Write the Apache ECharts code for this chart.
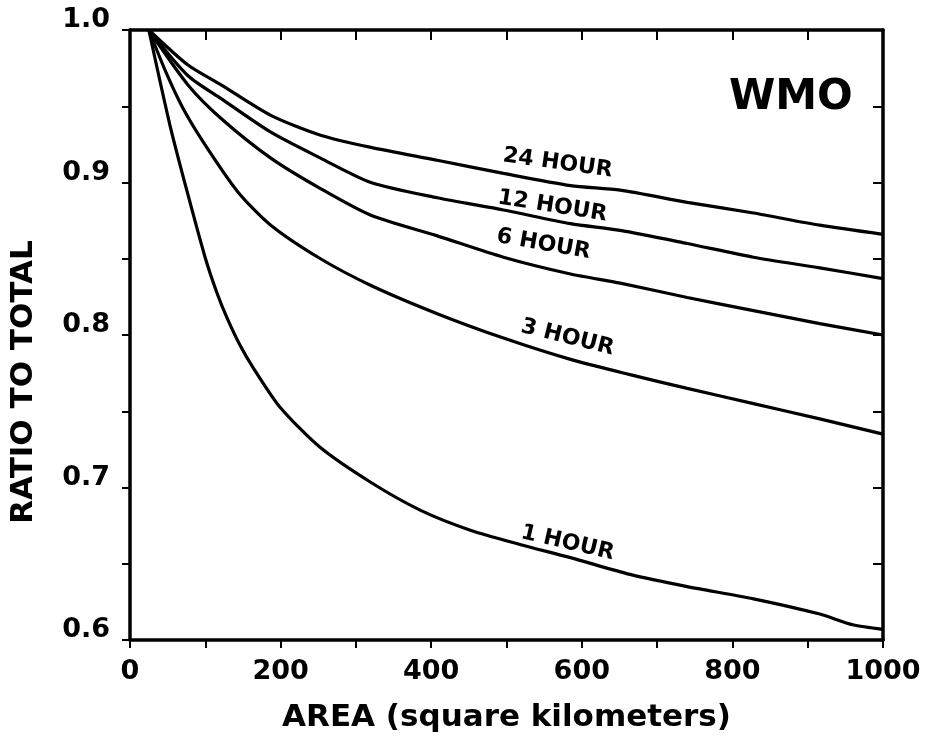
<!DOCTYPE html>
<html>
<head>
<meta charset="utf-8">
<script src="https://cdn.jsdelivr.net/npm/echarts@6/dist/echarts.min.js"></script>
<style>html,body{margin:0;padding:0;background:#fff}#c{width:925px;height:738px}</style>
</head>
<body>
<div id="c"></div>
<script>
// ---- data (area in km², ratio to total) ----
var seriesNames = ['1 HOUR', '3 HOUR', '6 HOUR', '12 HOUR', '24 HOUR'];

var area1h  = [25, 53, 76, 100, 116, 129, 146, 163, 199, 252, 319, 386, 452, 519, 585, 664, 740, 828, 916, 960, 1000];
var ratio1h = [1.0, 0.9377, 0.8938, 0.8505, 0.8269, 0.8111, 0.7934, 0.779, 0.7528, 0.7265, 0.7036, 0.685, 0.672, 0.6625, 0.654, 0.643, 0.635, 0.627, 0.617, 0.610, 0.607];

var area3h  = [25, 48, 70, 98, 143, 187, 253, 320, 408, 496, 585, 664, 740, 828, 916, 1000];
var ratio3h = [1.0, 0.972, 0.949, 0.926, 0.894, 0.872, 0.850, 0.8325, 0.814, 0.798, 0.784, 0.774, 0.765, 0.755, 0.745, 0.735];

var area6h  = [25, 77, 121, 187, 253, 320, 408, 496, 585, 651, 740, 828, 916, 1000];
var ratio6h = [1.0, 0.964, 0.942, 0.916, 0.896, 0.8785, 0.865, 0.851, 0.840, 0.834, 0.8246, 0.816, 0.8075, 0.800];

var area12h  = [25, 77, 121, 187, 253, 320, 408, 496, 585, 651, 740, 828, 916, 1000];
var ratio12h = [1.0, 0.970, 0.955, 0.933, 0.916, 0.900, 0.890, 0.882, 0.873, 0.8686, 0.860, 0.851, 0.844, 0.837];

var area24h  = [25, 77, 121, 187, 253, 320, 408, 496, 585, 651, 740, 828, 916, 1000];
var ratio24h = [1.0, 0.977, 0.964, 0.944, 0.931, 0.923, 0.9146, 0.906, 0.898, 0.895, 0.887, 0.880, 0.872, 0.866];

// label anchor points (area, ratio) and rotation for the curve labels
var labelAreas  = [581, 581, 549, 561, 568];
var labelRatios = [0.6636, 0.7983, 0.8594, 0.8844, 0.9126];
var labelAngles = [-13, -14, -10, -9, -8];

var xTickLabels = ['0', '200', '400', '600', '800', '1000'];
var yTickLabels = ['0.6', '0.7', '0.8', '0.9', '1.0'];

var plotTitle = 'WMO';
var xTitle = 'AREA (square kilometers)';
var yTitle = 'RATIO TO TOTAL';

// ---- build ----
function zip(a, b) { return a.map(function (v, i) { return [v, b[i]]; }); }
var allAreas = [area1h, area3h, area6h, area12h, area24h];
var allRatios = [ratio1h, ratio3h, ratio6h, ratio12h, ratio24h];

var FONT = '"DejaVu Sans", "Liberation Sans", sans-serif';

var series = seriesNames.map(function (name, i) {
  return {
    name: name,
    type: 'line',
    data: zip(allAreas[i], allRatios[i]),
    showSymbol: false,
    smooth: 0.25,
    lineStyle: { color: '#000', width: 3.2 },
    z: 3,
    markPoint: {
      symbol: 'circle', symbolSize: 0, silent: true,
      data: [{
        coord: [labelAreas[i], labelRatios[i]],
        label: {
          show: true, formatter: name, position: 'inside',
          rotate: labelAngles[i], color: '#000',
          fontFamily: FONT, fontWeight: 'bold', fontSize: 22
        }
      }]
    }
  };
});

var chart = echarts.init(document.getElementById('c'), null, { renderer: 'canvas' });
chart.setOption({
  backgroundColor: '#fff',
  animation: false,
  title: {
    text: plotTitle, left: 724, top: 72,
    textStyle: { fontFamily: FONT, fontWeight: 'bold', fontSize: 42, color: '#000' }
  },
  grid: { left: 130, right: 42, top: 30, bottom: 98, containLabel: false },
  xAxis: [{
    type: 'value', min: 0, max: 1000, interval: 200, position: 'bottom',
    axisLine: { show: true, onZero: false, lineStyle: { color: '#000', width: 3.5 } },
    axisTick: { show: true, inside: false, length: 8, lineStyle: { color: '#000', width: 2 } },
    minorTick: { show: true, splitNumber: 2, length: 8, lineStyle: { color: '#000', width: 2 } },
    splitLine: { show: false },
    axisLabel: {
      margin: 18, color: '#000', fontFamily: FONT, fontWeight: 'bold', fontSize: 27,
      formatter: function (v) { var i = Math.round(v / 200); return xTickLabels[i]; }
    },
    name: xTitle, nameLocation: 'middle', nameGap: 62,
    nameTextStyle: { color: '#000', fontFamily: FONT, fontWeight: 'bold', fontSize: 31 }
  }, {
    type: 'value', min: 0, max: 1000, interval: 200, position: 'top',
    axisLine: { show: true, onZero: false, lineStyle: { color: '#000', width: 3.5 } },
    axisTick: { show: true, inside: true, length: 10, lineStyle: { color: '#000', width: 2 } },
    minorTick: { show: true, splitNumber: 2, length: 10, lineStyle: { color: '#000', width: 2 } },
    splitLine: { show: false }, axisLabel: { show: false }
  }],
  yAxis: [{
    type: 'value', min: 0.6, max: 1.0, interval: 0.1, position: 'left',
    axisLine: { show: true, onZero: false, lineStyle: { color: '#000', width: 3.5 } },
    axisTick: { show: true, inside: false, length: 8, lineStyle: { color: '#000', width: 2 } },
    minorTick: { show: true, splitNumber: 2, length: 8, lineStyle: { color: '#000', width: 2 } },
    splitLine: { show: false },
    axisLabel: {
      margin: 20, color: '#000', fontFamily: FONT, fontWeight: 'bold', fontSize: 27,
      verticalAlign: 'bottom', lineHeight: 20,
      formatter: function (v) { var i = Math.round((v - 0.6) / 0.1); return yTickLabels[i]; }
    }
  }, {
    type: 'value', min: 0.6, max: 1.0, interval: 0.1, position: 'right',
    axisLine: { show: true, onZero: false, lineStyle: { color: '#000', width: 3.5 } },
    axisTick: { show: true, inside: true, length: 10, lineStyle: { color: '#000', width: 2 } },
    minorTick: { show: true, splitNumber: 2, length: 10, lineStyle: { color: '#000', width: 2 } },
    splitLine: { show: false }, axisLabel: { show: false }
  }],
  graphic: [{
    type: 'text', x: 24, y: 382, rotation: Math.PI / 2,
    style: {
      text: yTitle, fill: '#000', font: 'bold 31px ' + FONT,
      textAlign: 'center', textVerticalAlign: 'middle'
    }
  }],
  series: series
});
</script>
</body>
</html>
